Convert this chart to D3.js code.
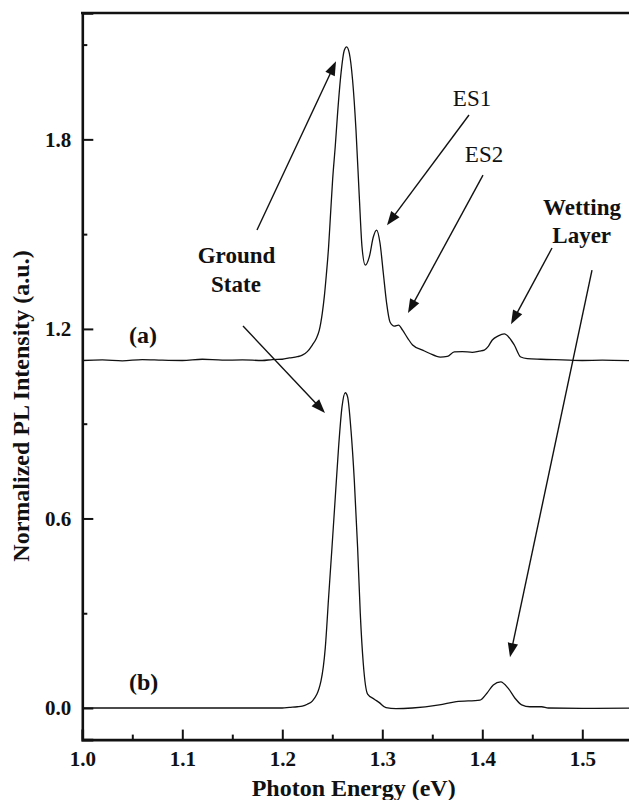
<!DOCTYPE html>
<html>
<head>
<meta charset="utf-8">
<script src="https://cdn.jsdelivr.net/npm/d3@7/dist/d3.min.js"></script>
<style>
  html, body { margin: 0; padding: 0; background: #fff; }
  svg { display: block; }
  text { font-family: "Liberation Serif", "Times New Roman", serif; fill: #111; }
</style>
</head>
<body>
<svg id="chart" width="629" height="800"></svg>
<script>
// ---- data ----
const energyA = [1.00, 1.02, 1.04, 1.06, 1.08, 1.10, 1.12, 1.14, 1.16, 1.18, 1.19, 1.20,
  1.207, 1.215, 1.220, 1.225, 1.230, 1.234, 1.237, 1.240, 1.242, 1.244, 1.2463, 1.248,
  1.2503, 1.253, 1.2553, 1.2587, 1.262, 1.2643, 1.267, 1.2703, 1.2737, 1.277, 1.2797,
  1.283, 1.287, 1.291, 1.2943, 1.2977, 1.301, 1.3043, 1.3077, 1.312, 1.3163, 1.3203,
  1.3253, 1.3303, 1.3403, 1.347, 1.358, 1.365, 1.372, 1.380, 1.390, 1.397, 1.402, 1.406,
  1.410, 1.416, 1.422, 1.427, 1.432, 1.4385, 1.445, 1.4585, 1.48, 1.50, 1.52, 1.55];
const intensityA = [1.100, 1.102, 1.099, 1.103, 1.101, 1.100, 1.104, 1.101, 1.102, 1.100, 1.103, 1.104,
  1.108, 1.112, 1.117, 1.128, 1.149, 1.170, 1.196, 1.250, 1.302, 1.370, 1.460, 1.550,
  1.671, 1.780, 1.883, 2.009, 2.082, 2.093, 2.073, 1.987, 1.829, 1.618, 1.460,
  1.402, 1.428, 1.491, 1.513, 1.472, 1.377, 1.282, 1.222, 1.209, 1.212, 1.196,
  1.171, 1.149, 1.133, 1.123, 1.111, 1.113, 1.127, 1.128, 1.126, 1.130, 1.133, 1.145,
  1.165, 1.178, 1.184, 1.172, 1.149, 1.111, 1.106, 1.104, 1.102, 1.100, 1.101, 1.099];

const energyB = [1.00, 1.05, 1.10, 1.15, 1.20, 1.207, 1.215, 1.220, 1.225, 1.230, 1.2387,
  1.243, 1.2463, 1.2497, 1.253, 1.2563, 1.2597, 1.263, 1.2653, 1.2687, 1.272, 1.2753,
  1.278, 1.281, 1.2853, 1.292, 1.297, 1.3037, 1.3137, 1.33, 1.357, 1.374, 1.3977,
  1.4044, 1.411, 1.4184, 1.426, 1.4327, 1.4394, 1.4477, 1.4594, 1.466, 1.50, 1.55];
const intensityB = [0.000, 0.000, 0.000, 0.000, 0.000, 0.002, 0.004, 0.006, 0.012, 0.022, 0.086,
  0.191, 0.350, 0.509, 0.668, 0.826, 0.953, 0.998, 0.985, 0.879, 0.721, 0.509,
  0.298, 0.140, 0.044, 0.028, 0.017, 0.001, -0.002, 0.000, 0.010, 0.020, 0.025,
  0.046, 0.073, 0.083, 0.062, 0.031, 0.010, 0.004, 0.004, 0.000, -0.001, 0.000];

const xMajorTicks = [1.0, 1.1, 1.2, 1.3, 1.4, 1.5];
const xMinorTicks = [1.05, 1.15, 1.25, 1.35, 1.45, 1.55];
const yMajorTicks = [0.0, 0.6, 1.2, 1.8];
const yMinorTicks = [0.3, 0.9, 1.5, 2.1];

const xTitle = "Photon Energy (eV)";
const yTitle = "Normalized PL Intensity (a.u.)";

// labels
const labelTexts   = ["Ground", "State", "ES1", "ES2", "Wetting", "Layer", "(a)", "(b)"];
const labelEnergy  = [1.1542, 1.1537, 1.3897, 1.4017, 1.4997, 1.4994, 1.0467, 1.0467];
const labelIntens  = [1.410, 1.316, 1.905, 1.728, 1.560, 1.472, 1.155, 0.057];
const labelBold    = [true, true, false, false, true, true, true, true];
const labelAnchor  = ["middle", "middle", "middle", "middle", "middle", "middle", "start", "start"];

// arrows: from (E0,I0) to tip (E1,I1)
const arrowFromE = [1.1747, 1.1607, 1.3867, 1.4007, 1.4697, 1.5097];
const arrowFromI = [1.513, 1.209, 1.877, 1.687, 1.456, 1.386];
const arrowToE   = [1.2537, 1.2427, 1.3047, 1.3257, 1.4287, 1.4277];
const arrowToI   = [2.047, 0.934, 1.528, 1.250, 1.215, 0.161];

// ---- drawing ----
const svg = d3.select("#chart");
const x = d3.scaleLinear().domain([1.0, 1.55]).range([82.3, 632.3]);
const y = d3.scaleLinear().domain([-0.1, 2.2]).range([739.6, 13]);

svg.append("defs").append("clipPath").attr("id", "plotclip")
  .append("rect")
  .attr("x", x(1.0)).attr("y", y(2.2))
  .attr("width", x(1.55) - x(1.0)).attr("height", y(-0.1) - y(2.2));

const line = d3.line().x(d => x(d[0])).y(d => y(d[1])).curve(d3.curveMonotoneX);
const curves = svg.append("g").attr("clip-path", "url(#plotclip)");
curves.append("path")
  .datum(energyA.map((e, i) => [e, intensityA[i]]))
  .attr("d", line).attr("fill", "none").attr("stroke", "#111").attr("stroke-width", 1.3);
curves.append("path")
  .datum(energyB.map((e, i) => [e, intensityB[i]]))
  .attr("d", line).attr("fill", "none").attr("stroke", "#111").attr("stroke-width", 1.3);

// axes
const xAxisG = svg.append("g").attr("transform", `translate(0,${y(-0.1)})`)
  .call(d3.axisBottom(x).tickValues(xMajorTicks).tickSize(-10).tickPadding(15)
        .tickFormat(d3.format(".1f")));
svg.append("g").attr("transform", `translate(0,${y(-0.1)})`)
  .call(d3.axisBottom(x).tickValues(xMinorTicks).tickSize(-5).tickFormat(""))
  .call(g => g.select(".domain").remove());
const yAxisG = svg.append("g").attr("transform", `translate(${x(1.0)},0)`)
  .call(d3.axisLeft(y).tickValues(yMajorTicks).tickSize(-11).tickPadding(11)
        .tickFormat(d3.format(".1f")));
svg.append("g").attr("transform", `translate(${x(1.0)},0)`)
  .call(d3.axisLeft(y).tickValues(yMinorTicks).tickSize(-5).tickFormat(""))
  .call(g => g.select(".domain").remove());

svg.selectAll(".domain").attr("stroke", "#111").attr("stroke-width", 2.6);
svg.selectAll(".tick line").attr("stroke", "#111").attr("stroke-width", 2);
svg.selectAll(".tick text")
  .attr("font-family", "Liberation Serif, serif")
  .attr("font-size", "21px").attr("font-weight", "bold").attr("fill", "#111");
xAxisG.selectAll(".tick text").attr("dy", "0.55em");

// top frame
svg.append("line")
  .attr("x1", x(1.0) - 1.3).attr("x2", x(1.55))
  .attr("y1", y(2.2)).attr("y2", y(2.2))
  .attr("stroke", "#111").attr("stroke-width", 2.6);

// axis titles
svg.append("text")
  .attr("x", (x(1.0) + 629) / 2 - 2).attr("y", 796)
  .attr("text-anchor", "middle").attr("font-size", "24px").attr("font-weight", "bold")
  .text(xTitle);
svg.append("text")
  .attr("transform", `translate(29,${406}) rotate(-90)`)
  .attr("text-anchor", "middle").attr("font-size", "24px").attr("font-weight", "bold")
  .text(yTitle);

// labels
labelTexts.forEach((t, i) => {
  svg.append("text")
    .attr("x", x(labelEnergy[i])).attr("y", y(labelIntens[i]))
    .attr("text-anchor", labelAnchor[i])
    .attr("font-size", i >= 6 ? "24px" : "23px")
    .attr("font-weight", labelBold[i] ? "bold" : "normal")
    .text(t);
});

// arrows
const L = 14, W = 5.2;
arrowFromE.forEach((e0, i) => {
  const x0 = x(e0), y0 = y(arrowFromI[i]);
  const x1 = x(arrowToE[i]), y1 = y(arrowToI[i]);
  const dx = x1 - x0, dy = y1 - y0, len = Math.hypot(dx, dy);
  const ux = dx / len, uy = dy / len;
  const bx = x1 - ux * L, by = y1 - uy * L;
  svg.append("line")
    .attr("x1", x0).attr("y1", y0).attr("x2", bx + ux * 2).attr("y2", by + uy * 2)
    .attr("stroke", "#111").attr("stroke-width", 1.4);
  svg.append("polygon")
    .attr("points", [[x1, y1], [bx - uy * W, by + ux * W], [bx + uy * W, by - ux * W]]
      .map(p => p.join(",")).join(" "))
    .attr("fill", "#111");
});
</script>
</body>
</html>
